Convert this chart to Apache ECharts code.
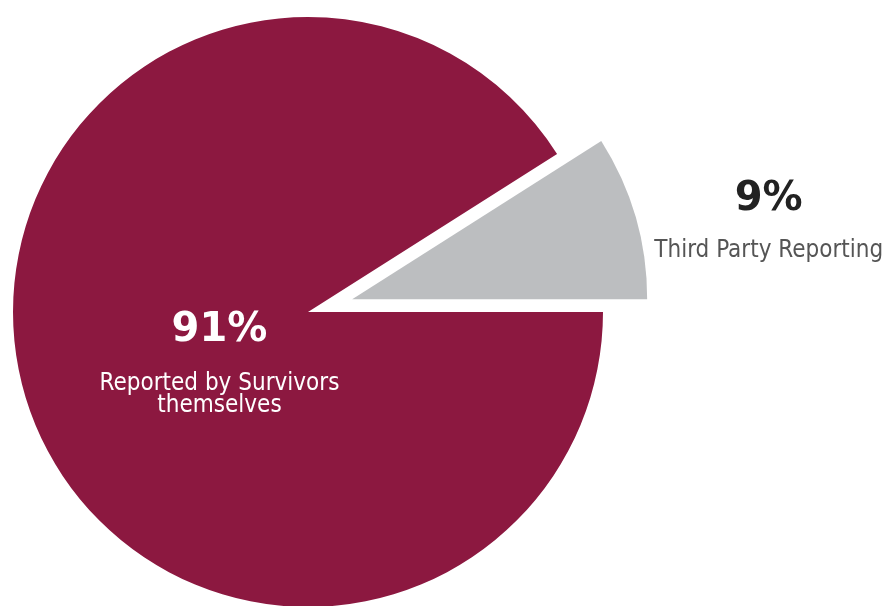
<!DOCTYPE html>
<html>
<head>
<meta charset="utf-8">
<script src="https://cdn.jsdelivr.net/npm/echarts@6/dist/echarts.min.js"></script>
<style>
html,body{margin:0;padding:0;background:#fff;}
#c{width:886px;height:606px;}
</style>
</head>
<body>
<div id="c"></div>
<script>
var categories = ['Third Party Reporting', 'Reported by Survivors themselves'];
var labelLines = [['Third Party Reporting'], ['Reported by Survivors', 'themselves']];
var values = [9, 91];
var colors = ['#BCBEC0', '#8C1840'];

var total = values.reduce(function(a,b){return a+b;},0);
var startAngle = 360 * values[0] / total;

var chart = echarts.init(document.getElementById('c'), null, {renderer:'canvas'});
var data = categories.map(function(name, i){
  var isGray = i === 0;
  return {
    name: name,
    value: values[i],
    selected: isGray,
    itemStyle: {color: colors[i]},
    label: {
      show: true,
      position: 'inside',
      formatter: function(p){
        return '{p|' + p.value + '%}\n' + labelLines[i].map(function(l){return '{t|' + l + '}';}).join('\n');
      },
      rich: {
        p: {
          fontFamily: 'DejaVu Sans', fontWeight: 'bold', fontSize: 40,
          color: isGray ? '#222222' : '#ffffff',
          lineHeight: isGray ? 82 : 84, align: 'center'
        },
        t: {
          fontFamily: 'DejaVu Sans Condensed, Roboto', fontSize: 24,
          color: isGray ? '#555555' : '#ffffff',
          lineHeight: 22, align: 'center'
        }
      }
    }
  };
});

chart.setOption({
  animation: false,
  series: [{
    type: 'pie',
    center: [308, 312],
    radius: 295,
    startAngle: startAngle,
    clockwise: true,
    selectedMode: 'single',
    selectedOffset: 46,
    labelLine: {show: false},
    emphasis: {disabled: true},
    labelLayout: function(params){
      return params.dataIndex === 0 ? {dx: 272, dy: -47} : {dx: 56, dy: -1};
    },
    data: data
  }]
});
</script>
</body>
</html>
